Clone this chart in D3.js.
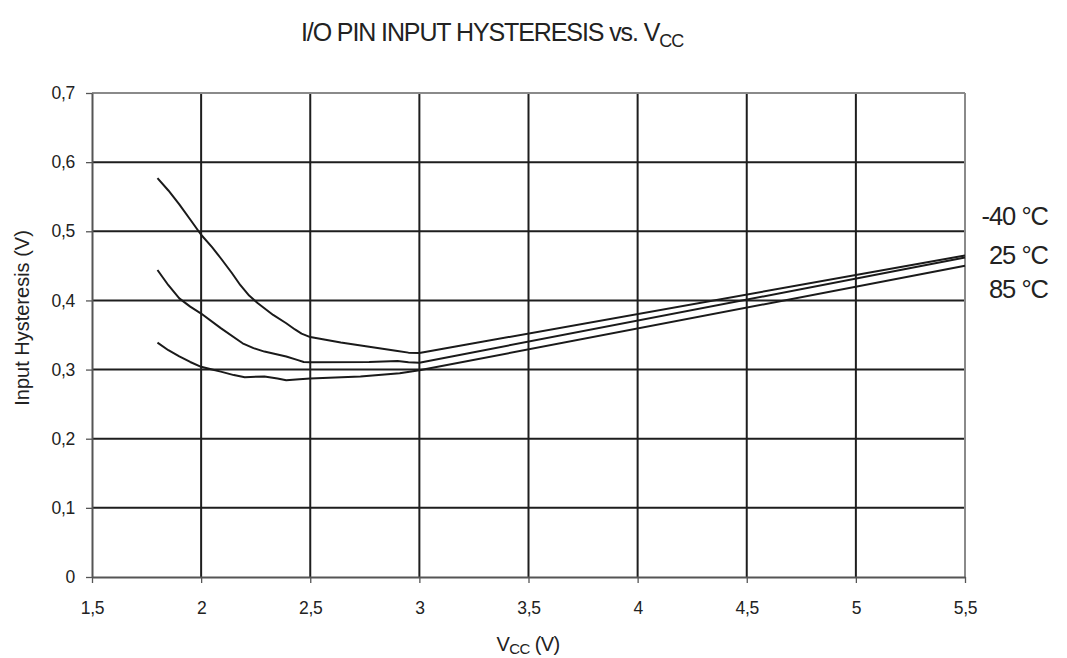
<!DOCTYPE html>
<html><head><meta charset="utf-8">
<script src="https://cdn.jsdelivr.net/npm/d3@7"></script>
<style>
html,body{margin:0;padding:0;background:#fff;}
svg{display:block;font-family:"Liberation Sans",Arial,sans-serif;}
</style></head>
<body><svg id="c" width="1067" height="658"></svg>
<script>
const xTicks = [1.5, 2, 2.5, 3, 3.5, 4, 4.5, 5, 5.5];
const xTickLabels = ["1,5","2","2,5","3","3,5","4","4,5","5","5,5"];
const yTicks = [0, 0.1, 0.2, 0.3, 0.4, 0.5, 0.6, 0.7];
const yTickLabels = ["0","0,1","0,2","0,3","0,4","0,5","0,6","0,7"];
const seriesNames = ["-40 °C", "25 °C", "85 °C"];

const vccM40 = [1.8, 1.85, 1.9, 1.95, 2.0, 2.05, 2.09, 2.14, 2.18, 2.22, 2.26, 2.33, 2.39, 2.43, 2.46, 2.5, 2.57, 2.64, 2.77, 2.9, 2.95, 3.0, 5.5];
const hysM40 = [0.577, 0.559, 0.539, 0.517, 0.495, 0.477, 0.461, 0.440, 0.422, 0.407, 0.396, 0.379, 0.367, 0.358, 0.352, 0.347, 0.343, 0.339, 0.333, 0.327, 0.3245, 0.324, 0.465];
const vcc25 = [1.8, 1.85, 1.9, 1.95, 2.0, 2.09, 2.19, 2.24, 2.29, 2.39, 2.44, 2.47, 2.5, 2.77, 2.9, 2.95, 3.0, 5.5];
const hys25 = [0.444, 0.422, 0.403, 0.391, 0.381, 0.360, 0.338, 0.331, 0.326, 0.319, 0.314, 0.311, 0.3105, 0.311, 0.3125, 0.3105, 0.310, 0.462];
const vcc85 = [1.8, 1.85, 1.9, 1.95, 2.0, 2.05, 2.09, 2.15, 2.2, 2.29, 2.35, 2.39, 2.45, 2.5, 2.73, 2.91, 3.0, 5.5];
const hys85 = [0.339, 0.328, 0.319, 0.311, 0.304, 0.300, 0.297, 0.292, 0.289, 0.290, 0.287, 0.2845, 0.286, 0.287, 0.290, 0.2946, 0.299, 0.450];

const series = [
  {name: seriesNames[0], x: vccM40, y: hysM40},
  {name: seriesNames[1], x: vcc25, y: hys25},
  {name: seriesNames[2], x: vcc85, y: hys85}
];

const svg = d3.select("#c");
const L = 92, R = 965, T = 93, B = 577;
const x = d3.scaleLinear().domain([1.5, 5.5]).range([L, R]);
const y = d3.scaleLinear().domain([0, 0.7]).range([B, T]);

// grid
const g = svg.append("g");
g.selectAll(".vg").data(xTicks.filter(v => v > 1.5 && v < 5.5)).enter().append("line")
  .attr("x1", d => x(d)).attr("x2", d => x(d)).attr("y1", T).attr("y2", B)
  .attr("stroke", "#1e1e1e").attr("stroke-width", 2);
g.selectAll(".hg").data(yTicks.filter(v => v > 0 && v < 0.7)).enter().append("line")
  .attr("x1", L).attr("x2", R).attr("y1", d => y(d)).attr("y2", d => y(d))
  .attr("stroke", "#1e1e1e").attr("stroke-width", 2);
g.append("line").attr("x1", L).attr("x2", R).attr("y1", T).attr("y2", T).attr("stroke", "#8a8a8a").attr("stroke-width", 2);
g.append("line").attr("x1", R).attr("x2", R).attr("y1", T).attr("y2", B).attr("stroke", "#8a8a8a").attr("stroke-width", 2);

// axes
const xAxis = d3.axisBottom(x).tickValues(xTicks).tickFormat((d, i) => xTickLabels[i]).tickSizeInner(6).tickSizeOuter(0).tickPadding(19);
const yAxis = d3.axisLeft(y).tickValues(yTicks).tickFormat((d, i) => yTickLabels[i]).tickSizeInner(6).tickSizeOuter(0).tickPadding(11);
const xa = svg.append("g").attr("transform", `translate(0,${B})`).call(xAxis);
const ya = svg.append("g").attr("transform", `translate(${L},0)`).call(yAxis);
[xa, ya].forEach(a => {
  a.select(".domain").attr("stroke", "#555").attr("stroke-width", 2);
  a.selectAll(".tick line").attr("stroke", "#555").attr("stroke-width", 1.3);
  a.selectAll("text").attr("font-size", 17.5).attr("fill", "#222").attr("font-family", "Liberation Sans, Arial, sans-serif").attr("letter-spacing", -0.3);
});

// curves
const line = d3.line().x(d => x(d[0])).y(d => y(d[1])).curve(d3.curveLinear);
series.forEach(s => {
  svg.append("path").datum(s.x.map((v, i) => [v, s.y[i]]))
    .attr("d", line).attr("fill", "none").attr("stroke", "#1a1a1a").attr("stroke-width", 2)
    .attr("stroke-linejoin", "round");
});

// series labels
const labY = [225, 264, 298];
series.forEach((s, i) => {
  svg.append("text").attr("x", 1048).attr("y", labY[i]).attr("text-anchor", "end")
    .attr("font-size", 25.5).attr("fill", "#222").attr("letter-spacing", -1).text(s.name);
});

// title
const title = svg.append("text").attr("x", 492).attr("y", 41).attr("text-anchor", "middle")
  .attr("font-size", 25).attr("fill", "#222").attr("letter-spacing", -1.1);
title.append("tspan").text("I/O PIN INPUT HYSTERESIS vs. V");
title.append("tspan").attr("font-size", 18).attr("dy", 6).text("CC");

// x axis title
const xt = svg.append("text").attr("x", 528).attr("y", 651).attr("text-anchor", "middle")
  .attr("font-size", 20).attr("fill", "#222").attr("letter-spacing", -0.6);
xt.append("tspan").text("V");
xt.append("tspan").attr("font-size", 15).attr("dy", 3).text("CC");
xt.append("tspan").attr("dy", -3).text(" (V)");

// y axis title
svg.append("text").attr("transform", "translate(29,318) rotate(-90)").attr("text-anchor", "middle")
  .attr("font-size", 20).attr("fill", "#222").text("Input Hysteresis (V)");
</script></body></html>
